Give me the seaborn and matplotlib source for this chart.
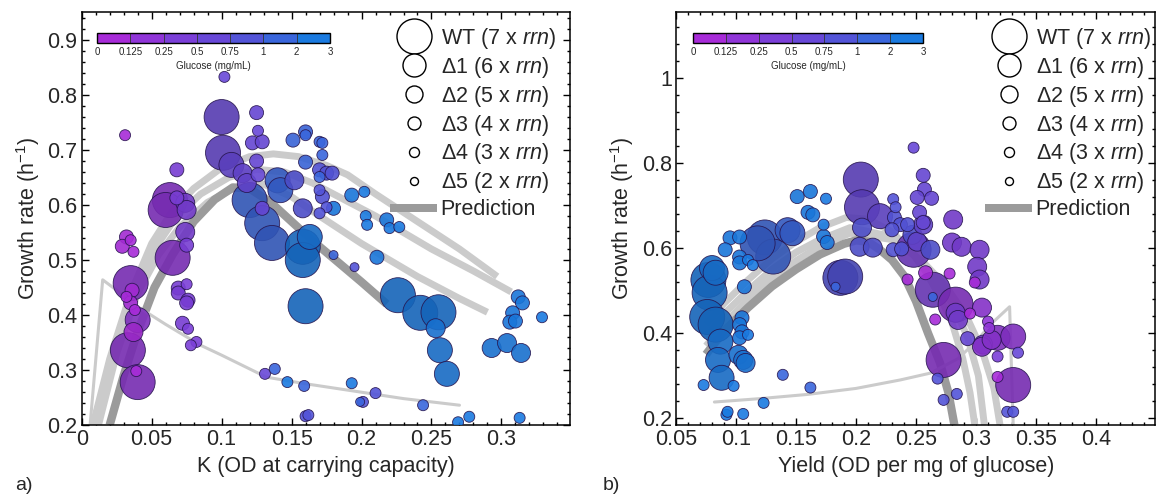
import numpy as np
import pandas as pd
import matplotlib
matplotlib.use("Agg")
import matplotlib as mpl
import matplotlib.pyplot as plt
import matplotlib.ticker as mticker
from matplotlib.colors import ListedColormap, BoundaryNorm, to_rgb
from matplotlib.lines import Line2D
import seaborn as sns

sns.set_theme(style="ticks")
plt.rcParams["font.family"] = ["Liberation Sans", "DejaVu Sans"]
plt.rcParams["mathtext.fontset"] = "custom"
plt.rcParams["mathtext.rm"] = "Liberation Sans"
plt.rcParams["mathtext.it"] = "Liberation Sans:italic"

# ---------------- glucose scale ----------------
glucose_edges = [0, 0.125, 0.25, 0.5, 0.75, 1, 2, 3]
glucose_tick_labels = ["0", "0.125", "0.25", "0.5", "0.75", "1", "2", "3"]
glucose_levels = [0.125, 0.25, 0.5, 0.75, 1, 2, 3]
glucose_colors = ["#a72bd8", "#9035d8", "#7b3fd8", "#6848d8", "#5354d8", "#3a66dc", "#1a7ae0"]

# ---------------- strains ----------------
strains = ["WT", "Δ1", "Δ2", "Δ3", "Δ4", "Δ5"]
rrn_copies = [7, 6, 5, 4, 3, 2]

# ---------------- panel a: K vs growth rate ----------------
a_k = [0.031, 0.100, 0.125, 0.126, 0.122, 0.129, 0.101, 0.107, 0.115, 0.125,
       0.126, 0.118, 0.129, 0.120, 0.140, 0.142, 0.152, 0.129, 0.136, 0.158,
       0.151, 0.160, 0.160, 0.170, 0.172, 0.172, 0.160, 0.170, 0.175, 0.179,
       0.170, 0.170, 0.172, 0.175, 0.170, 0.180, 0.193, 0.202, 0.203, 0.204,
       0.211, 0.180, 0.195, 0.158, 0.163, 0.158, 0.068, 0.063, 0.060, 0.068,
       0.074, 0.075, 0.074, 0.075, 0.065, 0.032, 0.035, 0.029, 0.037, 0.035,
       0.036, 0.032, 0.035, 0.038, 0.040, 0.037, 0.033, 0.040, 0.039, 0.069,
       0.075, 0.069, 0.076, 0.075, 0.072, 0.076, 0.082, 0.078, 0.131, 0.138,
       0.147, 0.159, 0.160, 0.162, 0.160, 0.193, 0.199, 0.218, 0.220, 0.227,
       0.226, 0.242, 0.255, 0.253, 0.256, 0.261, 0.293, 0.304, 0.314, 0.312,
       0.315, 0.308, 0.306, 0.310, 0.329, 0.210, 0.201, 0.244, 0.269, 0.277,
       0.313, 0.102]
a_rate = [0.727, 0.760, 0.768, 0.735, 0.713, 0.715, 0.695, 0.673, 0.658, 0.680,
          0.655, 0.640, 0.594, 0.609, 0.645, 0.627, 0.645, 0.567, 0.531, 0.594,
          0.718, 0.733, 0.727, 0.715, 0.713, 0.691, 0.678, 0.664, 0.658, 0.658,
          0.651, 0.627, 0.615, 0.596, 0.585, 0.594, 0.618, 0.624, 0.580, 0.564,
          0.505, 0.509, 0.487, 0.524, 0.542, 0.500, 0.664, 0.609, 0.591, 0.613,
          0.604, 0.591, 0.551, 0.527, 0.504, 0.542, 0.536, 0.525, 0.515, 0.458,
          0.445, 0.433, 0.422, 0.409, 0.391, 0.369, 0.336, 0.278, 0.298, 0.449,
          0.456, 0.440, 0.427, 0.422, 0.385, 0.375, 0.351, 0.345, 0.293, 0.302,
          0.278, 0.271, 0.216, 0.218, 0.416, 0.276, 0.242, 0.573, 0.558, 0.560,
          0.436, 0.404, 0.405, 0.376, 0.336, 0.293, 0.340, 0.349, 0.331, 0.433,
          0.422, 0.404, 0.387, 0.389, 0.396, 0.258, 0.242, 0.236, 0.205, 0.215,
          0.213, 0.833]
a_glucose = [0.125, 0.75, 0.75, 0.75, 0.75, 0.75, 0.75, 0.75, 0.75, 0.75,
             0.75, 0.75, 0.75, 2, 2, 2, 1, 2, 2, 1,
             2, 2, 2, 2, 2, 2, 2, 1, 1, 1,
             2, 1, 1, 1, 1, 3, 3, 3, 3, 3,
             3, 2, 1, 3, 3, 3, 0.5, 0.25, 0.25, 0.5,
             0.5, 0.5, 0.5, 0.5, 0.25, 0.125, 0.125, 0.125, 0.125, 0.25,
             0.125, 0.125, 0.125, 0.125, 0.25, 0.125, 0.25, 0.25, 0.125, 0.5,
             0.5, 0.5, 0.5, 0.5, 0.5, 0.5, 0.5, 0.5, 0.75, 2,
             3, 2, 1, 1, 3, 3, 2, 3, 3, 3,
             3, 3, 3, 3, 3, 3, 3, 3, 3, 3,
             3, 3, 3, 3, 3, 1, 1, 2, 3, 3,
             3, 0.75]
a_strain = ["Δ4", "WT", "Δ3", "Δ4", "Δ3", "Δ3", "WT", "Δ1", "Δ2", "Δ3",
            "Δ3", "Δ2", "Δ3", "WT", "Δ1", "Δ1", "Δ2", "WT", "WT", "Δ2",
            "Δ3", "Δ3", "Δ4", "Δ4", "Δ4", "Δ4", "Δ3", "Δ3", "Δ3", "Δ3",
            "Δ4", "Δ4", "Δ3", "Δ4", "Δ4", "Δ3", "Δ3", "Δ4", "Δ4", "Δ4",
            "Δ3", "Δ5", "Δ5", "WT", "Δ1", "WT", "Δ3", "WT", "WT", "Δ3",
            "Δ2", "Δ2", "Δ2", "Δ3", "WT", "Δ3", "Δ4", "Δ3", "Δ4", "WT",
            "Δ3", "Δ4", "Δ3", "Δ4", "Δ1", "Δ2", "WT", "WT", "Δ4", "Δ3",
            "Δ4", "Δ3", "Δ3", "Δ3", "Δ3", "Δ4", "Δ4", "Δ4", "Δ4", "Δ4",
            "Δ4", "Δ4", "Δ4", "Δ4", "WT", "Δ4", "Δ5", "Δ3", "Δ4", "Δ4",
            "WT", "WT", "WT", "Δ2", "Δ1", "Δ1", "Δ2", "Δ2", "Δ2", "Δ3",
            "Δ3", "Δ3", "Δ3", "Δ3", "Δ4", "Δ4", "Δ4", "Δ4", "Δ4", "Δ4",
            "Δ4", "Δ4"]

# model predictions, panel a (K, growth rate)
a_pred_dark_k = [0.020, 0.030, 0.040, 0.052, 0.065, 0.080, 0.095, 0.108, 0.120, 0.135, 0.150, 0.165, 0.180, 0.200, 0.218]
a_pred_dark_r = [0.200, 0.290, 0.370, 0.450, 0.510, 0.570, 0.610, 0.632, 0.630, 0.605, 0.570, 0.535, 0.503, 0.460, 0.420]
a_pred_1_k = [0.008, 0.020, 0.035, 0.050, 0.065, 0.080, 0.100, 0.120, 0.137, 0.155, 0.175, 0.190, 0.210, 0.240, 0.270, 0.297]
a_pred_1_r = [0.200, 0.320, 0.440, 0.530, 0.590, 0.630, 0.668, 0.688, 0.693, 0.688, 0.672, 0.655, 0.620, 0.570, 0.520, 0.470]
a_pred_2_k = [0.010, 0.022, 0.037, 0.052, 0.068, 0.085, 0.105, 0.125, 0.145, 0.165, 0.180, 0.210, 0.250, 0.280, 0.307]
a_pred_2_r = [0.200, 0.320, 0.440, 0.520, 0.580, 0.620, 0.650, 0.665, 0.660, 0.640, 0.620, 0.580, 0.520, 0.480, 0.442]
a_pred_3_k = [0.012, 0.025, 0.040, 0.055, 0.070, 0.090, 0.110, 0.130, 0.150, 0.170, 0.200, 0.240, 0.270, 0.290]
a_pred_3_r = [0.200, 0.330, 0.440, 0.510, 0.560, 0.605, 0.632, 0.638, 0.615, 0.580, 0.530, 0.470, 0.430, 0.405]
a_pred_thin_k = [0.006, 0.015, 0.025, 0.035, 0.047, 0.060, 0.085, 0.100, 0.132, 0.160, 0.199, 0.230, 0.270]
a_pred_thin_r = [0.200, 0.464, 0.445, 0.423, 0.404, 0.383, 0.345, 0.327, 0.287, 0.275, 0.260, 0.248, 0.236]

# ---------------- panel b: yield vs growth rate ----------------
b_yield = [0.248, 0.256, 0.257, 0.251, 0.263, 0.253, 0.256, 0.281, 0.204, 0.205,
           0.220, 0.231, 0.233, 0.232, 0.237, 0.243, 0.230, 0.247, 0.251, 0.256,
           0.248, 0.262, 0.280, 0.288, 0.303, 0.301, 0.303, 0.231, 0.238, 0.205,
           0.203, 0.214, 0.258, 0.243, 0.278, 0.299, 0.264, 0.264, 0.187, 0.191,
           0.183, 0.151, 0.162, 0.175, 0.160, 0.164, 0.173, 0.173, 0.176, 0.124,
           0.131, 0.118, 0.143, 0.147, 0.095, 0.103, 0.091, 0.103, 0.103, 0.110,
           0.114, 0.107, 0.080, 0.083, 0.077, 0.078, 0.076, 0.083, 0.087, 0.085,
           0.088, 0.073, 0.098, 0.105, 0.103, 0.105, 0.110, 0.103, 0.102, 0.106,
           0.108, 0.139, 0.162, 0.123, 0.092, 0.093, 0.106, 0.273, 0.268, 0.273,
           0.284, 0.266, 0.283, 0.295, 0.293, 0.306, 0.283, 0.285, 0.305, 0.310,
           0.311, 0.305, 0.313, 0.318, 0.331, 0.318, 0.335, 0.318, 0.331, 0.326,
           0.331]
b_rate = [0.836, 0.771, 0.738, 0.719, 0.717, 0.684, 0.660, 0.667, 0.761, 0.696,
          0.675, 0.715, 0.696, 0.672, 0.655, 0.655, 0.643, 0.631, 0.615, 0.655,
          0.596, 0.596, 0.613, 0.603, 0.596, 0.556, 0.526, 0.596, 0.598, 0.648,
          0.603, 0.601, 0.542, 0.526, 0.540, 0.519, 0.502, 0.485, 0.530, 0.533,
          0.509, 0.721, 0.733, 0.716, 0.684, 0.678, 0.655, 0.627, 0.613, 0.625,
          0.580, 0.611, 0.642, 0.635, 0.624, 0.626, 0.596, 0.579, 0.565, 0.572,
          0.560, 0.509, 0.553, 0.542, 0.525, 0.495, 0.438, 0.420, 0.380, 0.337,
          0.295, 0.278, 0.276, 0.436, 0.420, 0.403, 0.396, 0.389, 0.349, 0.337,
          0.330, 0.302, 0.272, 0.236, 0.208, 0.215, 0.210, 0.337, 0.293, 0.243,
          0.257, 0.432, 0.448, 0.446, 0.387, 0.373, 0.467, 0.431, 0.460, 0.427,
          0.412, 0.368, 0.384, 0.389, 0.392, 0.345, 0.354, 0.297, 0.278, 0.215,
          0.215]
b_glucose = [0.75, 0.75, 0.75, 0.75, 0.75, 0.75, 0.75, 0.5, 0.75, 0.75,
             0.75, 1, 1, 1, 1, 1, 1, 1, 0.75, 0.75,
             0.5, 1, 0.5, 0.5, 0.5, 0.5, 0.5, 1, 1, 1,
             1, 1, 0.125, 0.125, 0.125, 0.125, 0.5, 2, 1, 1,
             2, 3, 3, 3, 3, 3, 3, 3, 3, 2,
             2, 2, 2, 2, 3, 3, 3, 3, 3, 3,
             3, 3, 3, 3, 3, 3, 3, 3, 3, 3,
             3, 3, 3, 3, 3, 3, 3, 3, 3, 3,
             3, 2, 2, 3, 3, 3, 3, 0.25, 1, 1,
             1, 0.125, 0.5, 0.125, 0.75, 0.5, 0.25, 0.5, 0.25, 0.25,
             0.25, 0.25, 0.25, 0.25, 0.25, 0.5, 0.75, 0.125, 0.25, 1,
             1]
b_strain = ["Δ4", "Δ3", "Δ3", "Δ3", "Δ3", "Δ3", "Δ3", "Δ2", "WT", "WT",
            "Δ1", "Δ4", "Δ4", "Δ3", "Δ3", "Δ3", "Δ3", "Δ2", "Δ2", "Δ2",
            "WT", "Δ2", "Δ2", "Δ2", "Δ2", "Δ2", "Δ2", "Δ3", "Δ3", "Δ2",
            "Δ2", "Δ2", "Δ3", "Δ4", "Δ4", "Δ4", "WT", "Δ5", "WT", "WT",
            "Δ5", "Δ3", "Δ3", "Δ4", "Δ3", "Δ3", "Δ4", "Δ3", "Δ3", "WT",
            "WT", "WT", "Δ1", "Δ1", "Δ3", "Δ3", "Δ3", "Δ3", "Δ3", "Δ4",
            "Δ4", "Δ3", "Δ1", "Δ1", "WT", "WT", "WT", "WT", "Δ1", "Δ1",
            "Δ1", "Δ4", "Δ4", "Δ3", "Δ3", "Δ3", "Δ4", "Δ3", "Δ2", "Δ2",
            "Δ2", "Δ4", "Δ4", "Δ4", "Δ4", "Δ4", "Δ4", "WT", "Δ4", "Δ4",
            "Δ4", "Δ4", "Δ2", "Δ4", "Δ3", "Δ2", "WT", "Δ2", "Δ2", "Δ4",
            "Δ4", "Δ2", "Δ2", "Δ1", "Δ1", "Δ4", "Δ4", "Δ4", "WT", "Δ4",
            "Δ4"]

# model predictions, panel b (yield, growth rate)
b_pred_dark_y = [0.075, 0.090, 0.110, 0.130, 0.150, 0.170, 0.190, 0.200, 0.210, 0.220, 0.230, 0.240, 0.250, 0.260, 0.270, 0.277, 0.282]
b_pred_dark_r = [0.350, 0.405, 0.460, 0.510, 0.550, 0.585, 0.610, 0.618, 0.615, 0.596, 0.572, 0.535, 0.475, 0.400, 0.330, 0.260, 0.184]
b_pred_1_y = [0.075, 0.090, 0.110, 0.130, 0.150, 0.170, 0.192, 0.210, 0.230, 0.245, 0.258, 0.270, 0.280, 0.289, 0.295, 0.299]
b_pred_1_r = [0.420, 0.470, 0.525, 0.575, 0.615, 0.648, 0.672, 0.668, 0.638, 0.595, 0.545, 0.485, 0.425, 0.340, 0.260, 0.184]
b_pred_2_y = [0.075, 0.090, 0.110, 0.130, 0.150, 0.170, 0.195, 0.225, 0.250, 0.268, 0.282, 0.293, 0.302, 0.307]
b_pred_2_r = [0.390, 0.445, 0.500, 0.550, 0.590, 0.620, 0.648, 0.630, 0.580, 0.520, 0.460, 0.390, 0.300, 0.184]
b_pred_3_y = [0.075, 0.090, 0.110, 0.130, 0.150, 0.170, 0.195, 0.230, 0.255, 0.275, 0.292, 0.305, 0.315, 0.320]
b_pred_3_r = [0.370, 0.420, 0.480, 0.530, 0.570, 0.605, 0.635, 0.620, 0.570, 0.510, 0.440, 0.360, 0.270, 0.184]
b_pred_thin_y = [0.082, 0.120, 0.160, 0.200, 0.237, 0.262, 0.285, 0.300, 0.312, 0.328, 0.331]
b_pred_thin_r = [0.238, 0.246, 0.256, 0.270, 0.290, 0.306, 0.340, 0.380, 0.420, 0.462, 0.184]

# ---------------- styling ----------------
strain_diam_px = {"WT": 35, "Δ1": 25, "Δ2": 19, "Δ3": 14, "Δ4": 11, "Δ5": 9}
legend_diam_px = {"WT": 35, "Δ1": 23, "Δ2": 17, "Δ3": 13, "Δ4": 10, "Δ5": 8}
strain_shade = {"WT": 0.82, "Δ1": 0.87, "Δ2": 0.92, "Δ3": 0.97, "Δ4": 1.0, "Δ5": 1.0}
PX = 0.72  # points per pixel at 100 dpi
LIGHT, DARK = "#cbcbcb", "#9b9b9b"


def point_frame(x, rate, glucose, strain):
    df = pd.DataFrame({"x": x, "rate": rate, "glucose": glucose, "strain": strain})
    df["key"] = df["glucose"].astype(str) + "|" + df["strain"]
    df["order"] = df["strain"].map({s: i for i, s in enumerate(strains)})
    return df.sort_values("order", kind="stable").reset_index(drop=True)


def palette_for(df):
    pal = {}
    for key in df["key"].unique():
        g, s = key.split("|")
        base = np.array(to_rgb(glucose_colors[glucose_levels.index(float(g))]))
        pal[key] = tuple(base * strain_shade[s])
    return pal


def draw_panel(ax, df, curves, thin):
    for (cx, cy, col, lw) in curves:
        sns.lineplot(x=cx, y=cy, sort=False, estimator=None, color=col,
                     linewidth=lw, ax=ax, zorder=2, solid_capstyle="butt")
    sns.lineplot(x=thin[0], y=thin[1], sort=False, estimator=None, color=LIGHT,
                 linewidth=2.2, ax=ax, zorder=2)
    sizes = {s: (strain_diam_px[s] * PX) ** 2 for s in strains}
    sns.scatterplot(data=df, x="x", y="rate", hue="key", palette=palette_for(df),
                    size="strain", sizes=sizes, legend=False, alpha=0.9,
                    edgecolor=(0.15, 0.08, 0.3, 0.35), linewidth=0.6,
                    ax=ax, zorder=3)


def style_axes(ax, xmaj, xmin_, ymaj, ymin_):
    ax.xaxis.set_major_locator(mticker.MultipleLocator(xmaj))
    ax.xaxis.set_minor_locator(mticker.MultipleLocator(xmin_))
    ax.yaxis.set_major_locator(mticker.MultipleLocator(ymaj))
    ax.yaxis.set_minor_locator(mticker.MultipleLocator(ymin_))
    fmt = mticker.FuncFormatter(lambda v, p: "%g" % round(v, 4))
    ax.xaxis.set_major_formatter(fmt)
    ax.yaxis.set_major_formatter(fmt)
    ax.tick_params(which="both", direction="in", top=True, right=True,
                   width=1.0, color="black", labelsize=15.5, pad=3)
    ax.tick_params(which="major", length=5)
    ax.tick_params(which="minor", length=2.5)
    for sp in ax.spines.values():
        sp.set_visible(True)
        sp.set_linewidth(1.1)
        sp.set_color("black")
    ax.set_ylabel("Growth rate (h$^{-1}$)", fontsize=15.5, labelpad=4)


def add_legend(ax, anchor):
    handles = [Line2D([], [], marker="o", ls="", mfc="white", mec="black",
                      mew=1.0, ms=legend_diam_px[s] * PX) for s in strains]
    handles.append(Line2D([], [], color=DARK, lw=8 * PX, solid_capstyle="butt"))
    labels = [f"{s} ({n} x $\\mathit{{rrn}}$)" for s, n in zip(strains, rrn_copies)]
    labels.append("Prediction")
    ax.legend(handles, labels, loc="upper left", bbox_to_anchor=anchor,
              bbox_transform=ax.figure.transFigure, frameon=False,
              fontsize=15.5, handlelength=2.2, handletextpad=0.15,
              labelspacing=0.18, borderpad=0, borderaxespad=0)


def add_colorbar(fig, rect):
    cax = fig.add_axes(rect)
    cmap = ListedColormap(glucose_colors)
    norm = BoundaryNorm(glucose_edges, cmap.N)
    cb = fig.colorbar(mpl.cm.ScalarMappable(norm=norm, cmap=cmap), cax=cax,
                      orientation="horizontal", spacing="uniform",
                      drawedges=True, ticks=glucose_edges)
    cb.ax.set_xticklabels(glucose_tick_labels)
    cb.ax.tick_params(length=0, labelsize=7, pad=3)
    cb.outline.set_linewidth(1.0)
    cb.outline.set_edgecolor("black")
    cb.dividers.set_color("#333333")
    cb.dividers.set_linewidth(0.6)
    cb.set_label("Glucose (mg/mL)", fontsize=7, labelpad=3)


W, H = 1166, 496
fig = plt.figure(figsize=(W / 100, H / 100), dpi=100)

ax_a = fig.add_axes([81.7 / W, 1 - 425 / H, (570 - 81.7) / W, 413 / H])
ax_b = fig.add_axes([676 / W, 1 - 425 / H, (1155.4 - 676) / W, 413 / H])

df_a = point_frame(a_k, a_rate, a_glucose, a_strain)
df_b = point_frame(b_yield, b_rate, b_glucose, b_strain)

curves_a = [(a_pred_1_k, a_pred_1_r, LIGHT, 5.0),
            (a_pred_2_k, a_pred_2_r, LIGHT, 5.0),
            (a_pred_3_k, a_pred_3_r, LIGHT, 5.0),
            (a_pred_dark_k, a_pred_dark_r, DARK, 6.0)]
curves_b = [(b_pred_1_y, b_pred_1_r, LIGHT, 5.0),
            (b_pred_2_y, b_pred_2_r, LIGHT, 5.0),
            (b_pred_3_y, b_pred_3_r, LIGHT, 5.0),
            (b_pred_dark_y, b_pred_dark_r, DARK, 6.0)]

draw_panel(ax_a, df_a, curves_a, (a_pred_thin_k, a_pred_thin_r))
draw_panel(ax_b, df_b, curves_b, (b_pred_thin_y, b_pred_thin_r))

ax_a.set_xlim(0, 0.349)
ax_a.set_ylim(0.2, 0.951)
ax_b.set_xlim(0.05, 0.4495)
ax_b.set_ylim(0.184, 1.155)

style_axes(ax_a, 0.05, 0.01, 0.1, 0.02)
style_axes(ax_b, 0.05, 0.01, 0.2, 0.04)
ax_a.set_xlabel("K (OD at carrying capacity)", fontsize=15.5, labelpad=4)
ax_b.set_xlabel("Yield (OD per mg of glucose)", fontsize=15.5, labelpad=4)

add_legend(ax_a, (390 / W, 1 - 26 / H))
add_legend(ax_b, (985 / W, 1 - 26 / H))

add_colorbar(fig, [97 / W, 1 - 43 / H, 233 / W, 10 / H])
add_colorbar(fig, [693 / W, 1 - 43 / H, 230 / W, 10 / H])

fig.text(15 / W, 1 - 486 / H, "a)", fontsize=14, va="center", ha="left")
fig.text(603 / W, 1 - 486 / H, "b)", fontsize=14, va="center", ha="left")

fig.savefig("out.png", dpi=100)
